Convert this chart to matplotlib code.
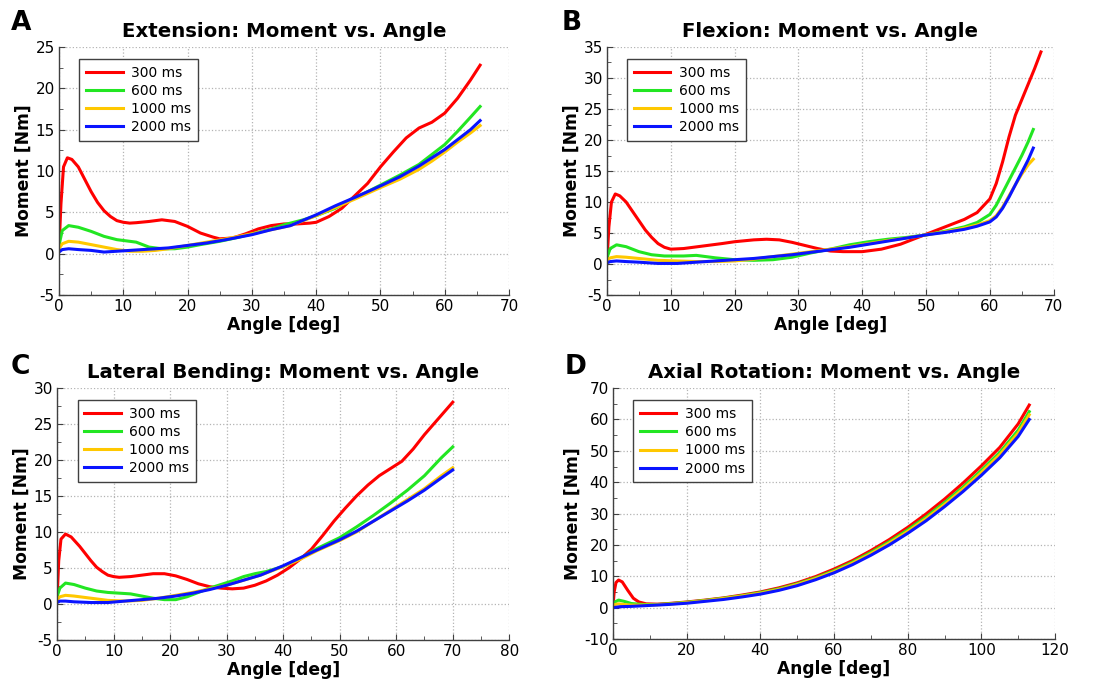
import matplotlib
matplotlib.use('Agg')
import matplotlib.pyplot as plt
from matplotlib.ticker import MultipleLocator

# ---- data ----
labels = ['300 ms', '600 ms', '1000 ms', '2000 ms']
colors = ['#ff0000', '#22e622', '#ffc800', '#0a14ff']

# A: Extension
ext_x = {
    '300': [0, 0.3, 0.7, 1.3, 2, 3, 4, 5, 6, 7, 8, 9, 10, 11, 12, 14, 16, 18, 20, 22, 24, 25, 27, 29, 31, 33, 35, 37,
            39, 40, 42, 44, 46, 48, 50, 52, 54, 56, 58, 60, 62, 64, 65.5],
    '600': [0, 0.5, 1.5, 3, 5, 7, 9, 11, 12, 14, 16, 18, 20, 22, 25, 28, 30, 33, 35, 38, 40, 43, 45, 48, 50, 53, 56,
            58, 60, 62, 64, 65.5],
    '1000': [0, 0.5, 1.5, 3, 5, 7, 9, 11, 13, 15, 17, 20, 23, 26, 30, 33, 36, 40, 43, 46, 50, 53, 56, 58, 60, 62, 64,
             65.5],
    '2000': [0, 0.5, 1.5, 3, 5, 7, 9, 11, 13, 15, 17, 20, 23, 26, 30, 33, 36, 40, 43, 46, 50, 53, 56, 58, 60, 62, 64,
             65.5],
}
ext_y = {
    '300': [0.5, 6, 10.5, 11.6, 11.4, 10.5, 9, 7.5, 6.2, 5.2, 4.5, 4.0, 3.8, 3.7, 3.75, 3.9, 4.1, 3.9, 3.3, 2.5, 2.0,
            1.8, 1.9, 2.4, 3.0, 3.4, 3.6, 3.6, 3.7, 3.8, 4.5, 5.5, 7, 8.5, 10.5, 12.3, 14, 15.2, 15.9, 17, 18.8, 21,
            22.8],
    '600': [1, 2.8, 3.4, 3.2, 2.7, 2.1, 1.7, 1.5, 1.4, 0.8, 0.6, 0.6, 0.8, 1.1, 1.5, 2, 2.4, 3, 3.5, 4.1, 4.6, 5.5,
            6.4, 7.5, 8.3, 9.5, 10.8, 12, 13.2, 14.8, 16.5, 17.8],
    '1000': [0.6, 1.2, 1.5, 1.4, 1.1, 0.8, 0.5, 0.3, 0.3, 0.4, 0.6, 1.0, 1.4, 1.8, 2.4, 2.9, 3.4, 4.6, 5.6, 6.6, 8,
             9, 10.2, 11.2, 12.3, 13.5, 14.6, 15.5],
    '2000': [0.2, 0.5, 0.6, 0.5, 0.4, 0.2, 0.3, 0.4, 0.5, 0.6, 0.7, 1.0, 1.3, 1.7, 2.3, 2.9, 3.4, 4.7, 5.8, 6.8, 8.2,
             9.3, 10.6, 11.6, 12.6, 13.8, 15, 16.1],
}

# B: Flexion
flex_x = {
    '300': [0, 0.3, 0.7, 1.3, 2, 3, 4, 5, 6, 7, 8, 9, 10, 12, 15, 18, 20, 23, 25, 27, 29, 31, 33, 35, 37, 40, 43, 46,
            48, 50, 53, 56, 58, 60, 61, 62, 63, 64, 65, 66, 67, 68],
    '600': [0, 0.5, 1.5, 3, 5, 7, 9, 12, 14, 17, 20, 23, 26, 29, 32, 35, 38, 41, 44, 47, 50, 53, 56, 58, 60, 61, 62,
            63, 64, 65, 66, 66.8],
    '1000': [0, 0.5, 1.5, 3, 5, 8, 11, 14, 17, 20, 23, 26, 29, 32, 35, 38, 41, 44, 47, 50, 53, 56, 58, 60, 61, 62, 63,
             64, 65, 66, 66.8],
    '2000': [0, 0.5, 1.5, 3, 5, 8, 11, 14, 17, 20, 23, 26, 29, 32, 35, 38, 41, 44, 47, 50, 53, 56, 58, 60, 61, 62, 63,
             64, 65, 66, 66.8],
}
flex_y = {
    '300': [0.5, 6, 10, 11.3, 11, 10, 8.5, 7, 5.5, 4.3, 3.3, 2.7, 2.4, 2.5, 2.9, 3.3, 3.6, 3.9, 4.0, 3.9, 3.5, 3.0,
            2.5, 2.1, 2.0, 2.0, 2.4, 3.2, 4.0, 4.8, 6.0, 7.2, 8.3, 10.5, 13, 16.5, 20.5, 24, 26.5, 29, 31.5, 34.2],
    '600': [1, 2.5, 3.1, 2.8, 2.0, 1.5, 1.3, 1.3, 1.4, 1.0, 0.7, 0.6, 0.7, 1.1, 1.8, 2.4, 3.1, 3.6, 4.0, 4.3, 4.7,
            5.3, 6.0, 6.7, 8.0, 9.5, 11.5, 13.5, 15.5, 17.5, 19.7, 21.7],
    '1000': [0.6, 1.0, 1.2, 1.1, 0.9, 0.6, 0.5, 0.4, 0.4, 0.5, 0.8, 1.2, 1.6, 2.0, 2.4, 2.8, 3.3, 3.8, 4.2, 4.7, 5.2,
             5.8, 6.3, 7.0, 7.8, 9.2, 11, 12.8, 14.5, 16, 16.9],
    '2000': [0.2, 0.4, 0.5, 0.4, 0.3, 0.1, 0.1, 0.3, 0.5, 0.7, 0.9, 1.2, 1.5, 1.9, 2.3, 2.7, 3.2, 3.7, 4.2, 4.7, 5.1,
             5.6, 6.1, 6.8, 7.6, 9.0, 10.8, 12.8, 14.8, 16.8, 18.7],
}

# C: Lateral Bending
lat_x = {
    '300': [0, 0.3, 0.7, 1.5, 2.5, 4, 5, 6, 7, 8, 9, 10, 11, 13, 15, 17, 19, 21, 23, 25, 27, 29, 31, 33, 35, 37, 39,
            41, 43, 45, 47, 49, 51, 53, 55, 57, 59, 61, 63, 65, 67, 70],
    '600': [0, 0.5, 1.5, 3, 5, 7, 9, 11, 13, 15, 17, 19, 21, 23, 25, 27, 29, 31, 33, 35, 37, 40, 43, 46, 50, 53, 56,
            59, 62, 65, 68, 70],
    '1000': [0, 0.5, 1.5, 3, 6, 9, 12, 15, 18, 21, 24, 27, 30, 33, 36, 40, 43, 46, 50, 53, 56, 59, 62, 65, 68, 70],
    '2000': [0, 0.5, 1.5, 3, 6, 9, 12, 15, 18, 21, 24, 27, 30, 33, 36, 40, 43, 46, 50, 53, 56, 59, 62, 65, 68, 70],
}
lat_y = {
    '300': [0.5, 6, 9, 9.7, 9.3, 8, 7, 6, 5.1, 4.5, 4.0, 3.8, 3.7, 3.8, 4.0, 4.2, 4.2, 3.9, 3.4, 2.8, 2.4, 2.2, 2.1,
            2.2, 2.6, 3.2, 4.0, 5.0, 6.2, 7.6, 9.5, 11.5, 13.3, 15.0, 16.5, 17.8, 18.8, 19.8, 21.5, 23.5, 25.3, 28],
    '600': [1, 2.2, 2.9, 2.7, 2.2, 1.8, 1.6, 1.5, 1.4, 1.1, 0.8, 0.6, 0.6, 1.0, 1.6, 2.2, 2.7, 3.2, 3.8, 4.2, 4.5,
            5.2, 6.3, 7.7, 9.2, 10.7, 12.3, 14, 15.8, 17.8, 20.3, 21.8],
    '1000': [0.6, 1.0, 1.2, 1.1, 0.8, 0.5, 0.4, 0.5, 0.8, 1.2, 1.6, 2.1, 2.6, 3.3, 4.0, 5.2, 6.2, 7.4, 8.8, 10, 11.5,
             13, 14.5, 16.0, 17.8, 18.9],
    '2000': [0.2, 0.4, 0.4, 0.3, 0.2, 0.2, 0.4, 0.6, 0.8, 1.1, 1.5, 2.0, 2.6, 3.3, 4.0, 5.3, 6.4, 7.5, 8.9, 10.1,
             11.5, 12.9, 14.3, 15.8, 17.5, 18.6],
}

# D: Axial Rotation
ax_x = {
    '300': [0, 0.3, 0.8, 1.5, 2.5, 4, 5.5, 7, 9, 12, 15, 20, 25, 30, 35, 40, 45, 50, 55, 60, 65, 70, 75, 80, 85, 90,
            95, 100, 105, 110, 113],
    '600': [0, 0.5, 1.5, 3, 5, 8, 12, 15, 20, 25, 30, 35, 40, 45, 50, 55, 60, 65, 70, 75, 80, 85, 90, 95, 100, 105,
            110, 113],
    '1000': [0, 0.5, 1.5, 3, 5, 8, 12, 15, 20, 25, 30, 35, 40, 45, 50, 55, 60, 65, 70, 75, 80, 85, 90, 95, 100, 105,
             110, 113],
    '2000': [0, 2, 5, 10, 15, 20, 25, 30, 35, 40, 45, 50, 55, 60, 65, 70, 75, 80, 85, 90, 95, 100, 105, 110, 113],
}
ax_y = {
    '300': [0.5, 5, 8, 8.8, 8.2, 5.5, 3, 1.8, 1.2, 1.1, 1.3, 1.8, 2.4, 3.1, 4.0, 5.0, 6.3, 7.9, 9.9, 12.3, 15.0,
            18.2, 21.7, 25.6, 29.9, 34.6, 39.7, 45.2, 51.1, 58.6, 64.6],
    '600': [0.5, 1.8, 2.4, 2.0, 1.3, 1.0, 1.0, 1.2, 1.7, 2.3, 3.0, 3.8, 4.8, 6.0, 7.6, 9.5, 11.8, 14.5, 17.6, 21.0,
            24.8, 28.9, 33.5, 38.4, 43.8, 49.5, 56.6, 62.5],
    '1000': [0.3, 1.0, 1.2, 1.0, 0.8, 0.8, 0.9, 1.1, 1.6, 2.2, 2.9, 3.7, 4.6, 5.8, 7.4, 9.3, 11.5, 14.2, 17.2, 20.6,
             24.3, 28.4, 32.9, 37.8, 43.1, 48.8, 55.7, 61.5],
    '2000': [0, 0.3, 0.4, 0.7, 1.0, 1.4, 2.0, 2.6, 3.4, 4.3, 5.5, 7.0, 8.9, 11.1, 13.7, 16.7, 20.0, 23.7, 27.7, 32.2,
             37.0, 42.2, 47.8, 54.6, 60.0],
}

keys = ['300', '600', '1000', '2000']

panels = [
    ('A', 'Extension: Moment vs. Angle', ext_x, ext_y, (0, 70), (-5, 25), 10, 5,
     [0.0535, 0.573, 0.408, 0.359]),
    ('B', 'Flexion: Moment vs. Angle', flex_x, flex_y, (0, 70), (-5, 35), 10, 5,
     [0.5503, 0.573, 0.405, 0.359]),
    ('C', 'Lateral Bending: Moment vs. Angle', lat_x, lat_y, (0, 80), (-5, 30), 10, 5,
     [0.0517, 0.0738, 0.410, 0.365]),
    ('D', 'Axial Rotation: Moment vs. Angle', ax_x, ax_y, (0, 120), (-10, 70), 20, 10,
     [0.5558, 0.0753, 0.4007, 0.363]),
]
letter_pos = {'A': (0.010, 0.985), 'B': (0.509, 0.985), 'C': (0.010, 0.487), 'D': (0.512, 0.487)}

plt.rcParams['font.family'] = 'DejaVu Sans'
plt.rcParams['axes.unicode_minus'] = False
fig = plt.figure(figsize=(11.03, 6.91), dpi=100)

for letter, title, xs, ys, xlim, ylim, xmaj, ymaj, rect in panels:
    ax = fig.add_axes(rect)
    for k, lab, c in zip(keys, labels, colors):
        ax.plot(xs[k], ys[k], color=c, lw=2.2, label=lab, solid_joinstyle='round')
    ax.set_xlim(xlim)
    ax.set_ylim(ylim)
    ax.xaxis.set_major_locator(MultipleLocator(xmaj))
    ax.xaxis.set_minor_locator(MultipleLocator(xmaj / 2))
    ax.yaxis.set_major_locator(MultipleLocator(ymaj))
    ax.yaxis.set_minor_locator(MultipleLocator(ymaj / 2))
    ax.grid(which='major', linestyle=':', color='#b4b4b4', lw=0.9)
    for s in ['top', 'right']:
        ax.spines[s].set_visible(False)
    for s in ['left', 'bottom']:
        ax.spines[s].set_color('#404040')
        ax.spines[s].set_linewidth(1.0)
    ax.tick_params(which='both', direction='in', labelsize=11, color='#404040', pad=3)
    ax.tick_params(which='major', length=4)
    ax.tick_params(which='minor', length=3)
    ax.set_title(title, fontsize=14.2, fontweight='bold', pad=7)
    ax.set_xlabel('Angle [deg]', fontsize=12.3, fontweight='bold', labelpad=1)
    ax.set_ylabel('Moment [Nm]', fontsize=12.3, fontweight='bold', labelpad=2)
    leg = ax.legend(loc='upper left', bbox_to_anchor=(0.03, 0.98), fontsize=10, fancybox=False,
                    framealpha=1, edgecolor='#404040', handlelength=2.6, labelspacing=0.3,
                    borderpad=0.5, handletextpad=0.6)
    leg.get_frame().set_linewidth(1.0)
    lx, ly = letter_pos[letter]
    fig.text(lx, ly, letter, fontsize=19, fontweight='bold', va='top', ha='left')

fig.savefig('out.png', dpi=100)
